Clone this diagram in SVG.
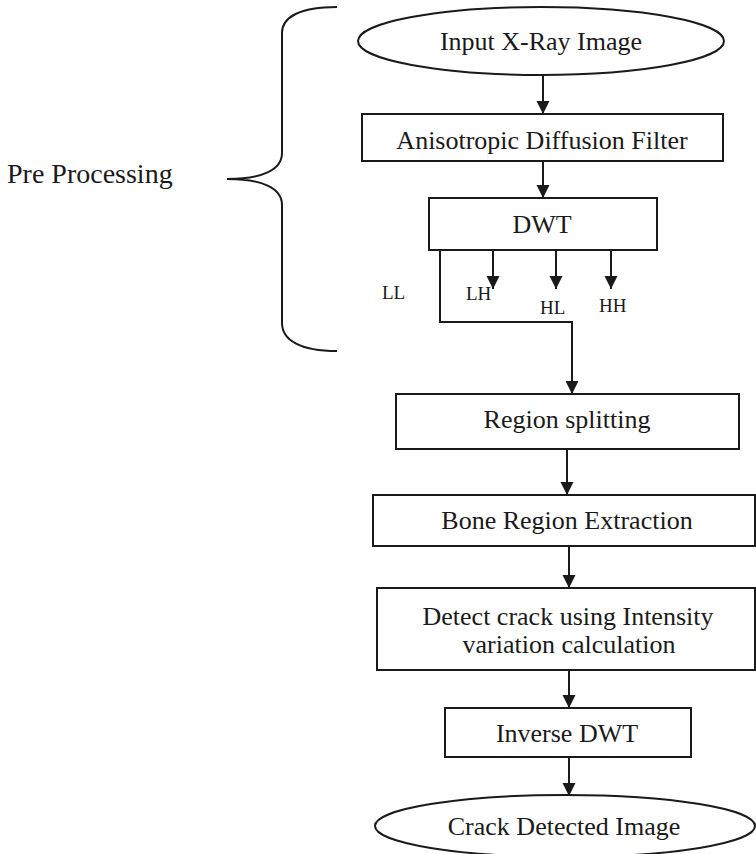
<svg xmlns="http://www.w3.org/2000/svg" width="756" height="854" viewBox="0 0 756 854">
<style>
.shape{fill:#fff;stroke:#1a1a1a;stroke-width:2}
.t{font-family:"Liberation Serif","Times New Roman",serif;font-size:26px;fill:#1a1a1a;text-anchor:middle}
.s{font-family:"Liberation Serif","Times New Roman",serif;font-size:19px;fill:#1a1a1a}
.c{fill:none;stroke:#1a1a1a;stroke-width:2}
</style>
<defs>
<marker id="ah" markerUnits="userSpaceOnUse" markerWidth="14" markerHeight="14" refX="13" refY="6.5" orient="auto">
<path d="M0,0 L13,6.5 L0,13 z" fill="#1a1a1a"/>
</marker>
</defs>
<rect width="756" height="854" fill="#fff"/>
<g id="brace">
<path class="c" d="M337,7 C300,7 282,17 282,33 V153 C282,170 262,179 227,179 C262,179 282,188 282,205 V323 C282,340 300,351 337,351"/>
<text x="7" y="183" style="font-family:'Liberation Serif','Times New Roman',serif;font-size:28px;fill:#1a1a1a">Pre Processing</text>
</g>
<g id="connectors">
<line class="c" x1="543" y1="75" x2="543" y2="114" marker-end="url(#ah)"/>
<line class="c" x1="543" y1="161" x2="543" y2="198" marker-end="url(#ah)"/>
<path class="c" d="M440,250 V322 H572 V394" marker-end="url(#ah)"/>
<line class="c" x1="493" y1="250" x2="493" y2="289" marker-end="url(#ah)"/>
<line class="c" x1="556" y1="250" x2="556" y2="289" marker-end="url(#ah)"/>
<line class="c" x1="611" y1="250" x2="611" y2="289" marker-end="url(#ah)"/>
<line class="c" x1="567" y1="449" x2="567" y2="495" marker-end="url(#ah)"/>
<line class="c" x1="569" y1="546" x2="569" y2="588" marker-end="url(#ah)"/>
<line class="c" x1="569" y1="670" x2="569" y2="708" marker-end="url(#ah)"/>
<line class="c" x1="569" y1="757" x2="569" y2="796" marker-end="url(#ah)"/>
</g>
<g id="labels">
<text class="s" x="382" y="299">LL</text>
<text class="s" x="466" y="300">LH</text>
<text class="s" x="540" y="314">HL</text>
<text class="s" x="599" y="312">HH</text>
</g>
<g id="input">
<ellipse class="shape" cx="541" cy="41" rx="183" ry="34"/>
<text class="t" x="541" y="50">Input X-Ray Image</text>
</g>
<g id="aniso">
<rect class="shape" x="362" y="114" width="361" height="47"/>
<text class="t" x="542" y="149">Anisotropic Diffusion Filter</text>
</g>
<g id="dwt">
<rect class="shape" x="429" y="198" width="228" height="52"/>
<text class="t" x="542" y="233">DWT</text>
</g>
<g id="region">
<rect class="shape" x="396" y="394" width="343" height="55"/>
<text class="t" x="567" y="428">Region splitting</text>
</g>
<g id="bone">
<rect class="shape" x="373" y="495" width="382" height="51"/>
<text class="t" x="567" y="529">Bone Region Extraction</text>
</g>
<g id="detect">
<rect class="shape" x="377" y="588" width="378" height="82"/>
<text class="t" x="568" y="625">Detect crack using Intensity</text>
<text class="t" x="569" y="653">variation calculation</text>
</g>
<g id="inverse">
<rect class="shape" x="445" y="708" width="246" height="49"/>
<text class="t" x="567" y="742">Inverse DWT</text>
</g>
<g id="output">
<ellipse class="shape" cx="565" cy="826" rx="190" ry="31"/>
<text class="t" x="564" y="835">Crack Detected Image</text>
</g>
</svg>
